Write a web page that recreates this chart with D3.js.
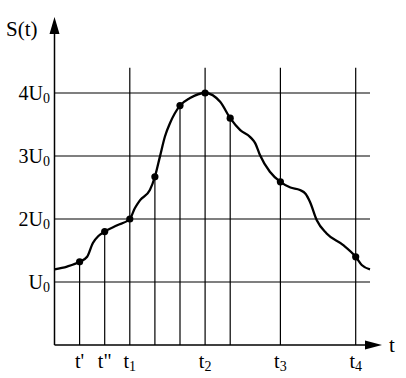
<!DOCTYPE html>
<html>
<head>
<meta charset="utf-8">
<script src="https://cdn.jsdelivr.net/npm/d3@7"></script>
<style>
body { margin: 0; background: #fff; }
svg text { font-family: "Liberation Serif", "DejaVu Serif", serif; fill: #000; }
</style>
</head>
<body>
<div id="chart"></div>
<script>
// levels of S (in U0) and their labels
var levels = [1, 2, 3, 4];
var levelCoef = ["", "2", "3", "4"];

// time ticks (in grid steps) and their labels
var tickPos = [1, 2, 3, 6, 9, 12];
var tickName = ["t'", "t\"", "t", "t", "t", "t"];
var tickSub = ["", "", "1", "2", "3", "4"];

// marked points on the curve
var markT = [1, 2, 3, 4, 5, 6, 7, 9, 12];
var markS = [1.32, 1.80, 2.00, 2.67, 3.80, 4.00, 3.60, 2.59, 1.40];
var fullLines = [3, 6, 9, 12];

// the curve S(t)
var curveT = [0, 0.5, 1, 1.3, 1.53, 1.75, 2, 2.5, 3, 3.2, 3.41, 3.8, 4, 4.2, 4.4, 4.6, 5, 5.4, 6, 6.6, 7, 7.4, 7.8, 8.0, 8.18, 8.58, 9, 9.4, 9.78, 10.0, 10.18, 10.45, 10.84, 11.49, 12, 12.24, 12.57];
var curveS = [1.20, 1.245, 1.32, 1.40, 1.62, 1.73, 1.80, 1.90, 2.00, 2.17, 2.30, 2.46, 2.67, 2.99, 3.31, 3.52, 3.80, 3.92, 4.00, 3.86, 3.60, 3.41, 3.30, 3.20, 3.02, 2.75, 2.59, 2.50, 2.46, 2.40, 2.27, 1.98, 1.77, 1.59, 1.40, 1.27, 1.20];

var width = 406, height = 378;
var svg = d3.select("#chart").append("svg")
	.attr("width", width)
	.attr("height", height);

var x = d3.scaleLinear().domain([0, 12]).range([54.5, 355.7]);
var y = d3.scaleLinear().domain([0, 4]).range([345, 93]);

var gridEnd = 12.57, lineTop = 4.4;

// horizontal grid
svg.selectAll(".hgrid")
	.data(levels)
	.enter().append("line")
	.attr("class", "hgrid")
	.attr("x1", x(0)).attr("x2", x(gridEnd))
	.attr("y1", function(d) { return y(d); })
	.attr("y2", function(d) { return y(d); })
	.attr("stroke", "#000").attr("stroke-width", 1.2);

// full vertical lines
svg.selectAll(".vfull")
	.data(fullLines)
	.enter().append("line")
	.attr("class", "vfull")
	.attr("x1", function(d) { return x(d); })
	.attr("x2", function(d) { return x(d); })
	.attr("y1", y(0)).attr("y2", y(lineTop))
	.attr("stroke", "#000").attr("stroke-width", 1.2);

// drop lines from marked points
var drops = markT.map(function(t, i) { return {t: t, s: markS[i]}; })
	.filter(function(d) { return fullLines.indexOf(d.t) < 0; });
svg.selectAll(".vdrop")
	.data(drops)
	.enter().append("line")
	.attr("class", "vdrop")
	.attr("x1", function(d) { return x(d.t); })
	.attr("x2", function(d) { return x(d.t); })
	.attr("y1", y(0))
	.attr("y2", function(d) { return y(d.s); })
	.attr("stroke", "#000").attr("stroke-width", 1.2);

// axes with arrows
svg.append("line")
	.attr("x1", x(0)).attr("x2", 366)
	.attr("y1", y(0)).attr("y2", y(0))
	.attr("stroke", "#000").attr("stroke-width", 1.5);
svg.append("path")
	.attr("d", "M365," + (y(0) - 4.5) + "L382," + y(0) + "L365," + (y(0) + 4.5) + "Z")
	.attr("fill", "#000");
svg.append("line")
	.attr("x1", x(0)).attr("x2", x(0))
	.attr("y1", y(0)).attr("y2", 32)
	.attr("stroke", "#000").attr("stroke-width", 1.5);
svg.append("path")
	.attr("d", "M" + (x(0) - 5) + ",34L" + x(0) + ",17L" + (x(0) + 5) + ",34Z")
	.attr("fill", "#000");

svg.append("text")
	.attr("x", 6).attr("y", 36)
	.attr("font-size", 21)
	.text("S(t)");
svg.append("text")
	.attr("x", 389).attr("y", 352)
	.attr("font-size", 21)
	.text("t");

// curve
var line = d3.line()
	.x(function(d) { return x(d[0]); })
	.y(function(d) { return y(d[1]); })
	.curve(d3.curveMonotoneX);
svg.append("path")
	.datum(curveT.map(function(t, i) { return [t, curveS[i]]; }))
	.attr("d", line)
	.attr("fill", "none")
	.attr("stroke", "#000")
	.attr("stroke-width", 2.3);

svg.selectAll(".dot")
	.data(markT)
	.enter().append("circle")
	.attr("class", "dot")
	.attr("cx", function(d) { return x(d); })
	.attr("cy", function(d, i) { return y(markS[i]); })
	.attr("r", 3.6)
	.attr("fill", "#000");

// y labels
var yl = svg.selectAll(".ylab")
	.data(levels)
	.enter().append("text")
	.attr("class", "ylab")
	.attr("x", 50)
	.attr("y", function(d) { return y(d) + 7; })
	.attr("text-anchor", "end")
	.attr("font-size", 20);
yl.append("tspan").text(function(d, i) { return levelCoef[i] + "U"; });
yl.append("tspan").attr("font-size", 14).attr("dy", 3).text("0");

// x labels
var xl = svg.selectAll(".xlab")
	.data(tickPos)
	.enter().append("text")
	.attr("class", "xlab")
	.attr("x", function(d) { return x(d); })
	.attr("y", 368)
	.attr("text-anchor", "middle")
	.attr("font-size", 20);
xl.append("tspan").text(function(d, i) { return tickName[i]; });
xl.append("tspan").attr("font-size", 14).attr("dy", 3).text(function(d, i) { return tickSub[i]; });
</script>
</body>
</html>
